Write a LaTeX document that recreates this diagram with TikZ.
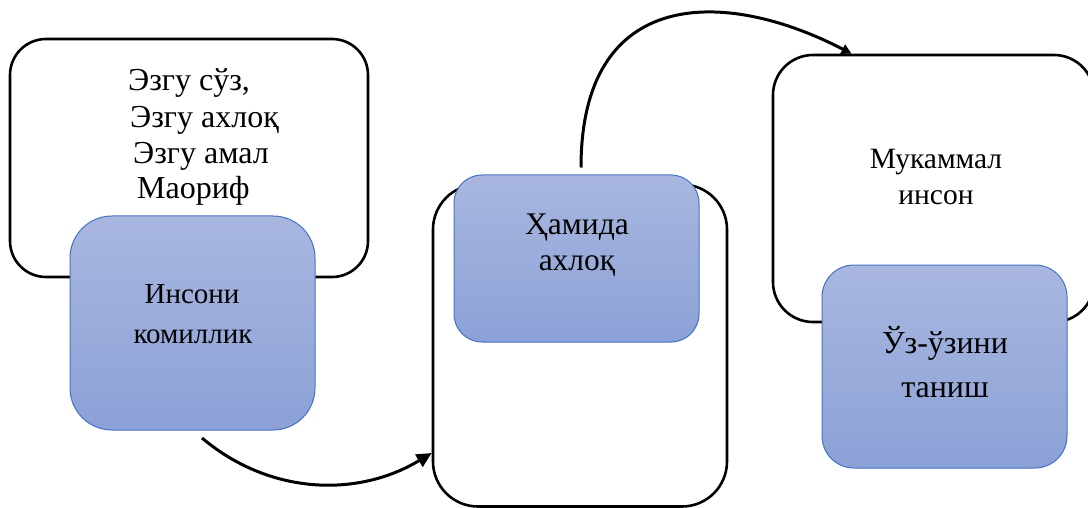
\documentclass[tikz,border=0pt]{standalone}
\usepackage{fontspec}
\setmainfont{Liberation Serif}
\usetikzlibrary{arrows.meta}
\definecolor{bluetop}{HTML}{A9B7DF}
\definecolor{bluebot}{HTML}{8BA1D7}
\definecolor{blueedge}{HTML}{4472C4}
\tikzset{
  whitebox/.style={draw=black, line width=2.6pt, fill=white, inner sep=0pt},
  bluebox/.style={draw=blueedge, line width=1pt, top color=bluetop, bottom color=bluebot, inner sep=0pt},
  txt/.style={inner sep=0pt, font=\fontsize{#1}{#1}\selectfont},
  conn/.style={draw=black, line width=3pt}
}
\begin{document}
\begin{tikzpicture}[x=1pt,y=-1pt]
\useasboundingbox (0,0) rectangle (1088,508);
% left group
\node[whitebox, rounded corners=36pt, minimum width=358pt, minimum height=238pt] (b1) at (189,158) {};
\node[bluebox, rounded corners=42pt, minimum width=245pt, minimum height=214pt] (b2) at (192.5,323) {};
\node[txt=32, anchor=base west] (t1a) at (128,91) {Эзгу сўз,};
\node[txt=32, anchor=base west] (t1b) at (130,128) {Эзгу ахлоқ};
\node[txt=32, anchor=base west] (t1c) at (133,164) {Эзгу амал};
\node[txt=32, anchor=base west] (t1d) at (137,199) {Маориф};
\node[txt=29, anchor=base] (t2a) at (192,303) {Инсони};
\node[txt=29, anchor=base] (t2b) at (193,343) {комиллик};
% middle group
\node[whitebox, rounded corners=45pt, minimum width=294pt, minimum height=322pt] (b3) at (580,345.5) {};
\node[bluebox, rounded corners=28pt, minimum width=245pt, minimum height=167pt] (b4) at (576.5,258.5) {};
\node[txt=31.5, anchor=base] (t4a) at (577,234) {Ҳамида};
\node[txt=31.5, anchor=base] (t4b) at (577,270) {ахлоқ};
% right group
\node[whitebox, rounded corners=40pt, minimum width=321pt, minimum height=267pt] (b5) at (933.5,188.5) {};
\node[bluebox, rounded corners=32pt, minimum width=245pt, minimum height=203pt] (b6) at (944.5,366.5) {};
\node[txt=29.5, anchor=base] (t5a) at (936,169) {Мукаммал};
\node[txt=29.5, anchor=base] (t5b) at (936,205) {инсон};
\node[txt=32, anchor=base] (t6a) at (945,353) {Ўз-ўзини};
\node[txt=32, anchor=base] (t6b) at (945,397) {таниш};
% connectors
\coordinate (a1s) at (202,438);
\draw[conn, -{Triangle[length=15pt,width=14pt]}] (a1s) .. controls (271,496) and (359,497) .. ([yshift=-107.5pt]b3.west);
\draw[conn, -{Triangle[length=10pt,width=10pt]}] ([xshift=4.5pt,yshift=7pt]b4.north) .. controls (581,-14) and (725,-12) .. ([xshift=-82pt]b5.north);
\end{tikzpicture}
\end{document}
